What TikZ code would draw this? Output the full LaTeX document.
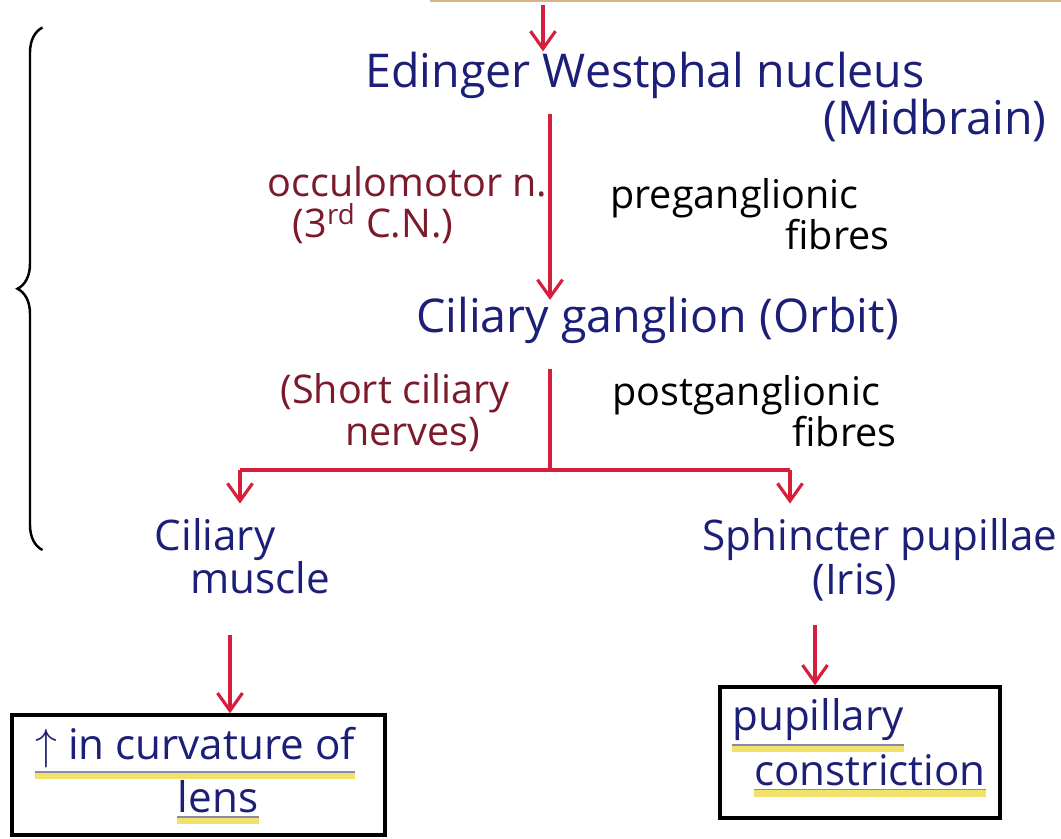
\documentclass[tikz,border=0pt]{standalone}
\usepackage{fontspec}
\setmainfont{Open Sans}
\usetikzlibrary{arrows.meta, decorations.pathreplacing, backgrounds}
\definecolor{inkblue}{HTML}{1C1F78}
\definecolor{inkred}{HTML}{7A1A2A}
\definecolor{arrowred}{HTML}{D61F3C}
\definecolor{marker}{HTML}{F0E26A}
\definecolor{markeredge}{HTML}{9088A8}
\definecolor{paper}{HTML}{D9B48A}

\begin{document}
\begin{tikzpicture}[
    organ/.style={text=inkblue, font=\fontsize{24}{28}\selectfont, inner sep=0pt},
    bigorgan/.style={organ, font=\fontsize{26.5}{30}\selectfont},
    nerve/.style={text=inkred, font=\fontsize{22.5}{23.5}\selectfont, inner sep=0pt, align=left, anchor=west},
    fibre/.style={text=black, font=\fontsize{22.5}{17}\selectfont, inner sep=0pt, align=left, anchor=west},
    result/.style={draw, line width=2pt, inner sep=0pt},
    arrow/.style={->, >={Straight Barb[length=3.5mm,width=5mm]}, line width=1.8pt, draw=arrowred},
    redline/.style={line width=1.8pt, draw=arrowred},
    marked/.style={line width=4pt, draw=marker}
]
\useasboundingbox (0,0) rectangle (21.22,-16.76);

% Paper edge
\draw[paper, line width=2pt] (8.6,0) -- (21.22,0);

% Nucleus
\node[bigorgan] (ew) at (12.9,-1.5) {Edinger Westphal nucleus};
\node[bigorgan] (mid) at (18.7,-2.4) {(Midbrain)};
\coordinate (topin) at (10.86,-0.1);
\coordinate (axis) at (11,0);
\draw[arrow] (topin) -- (topin |- ew.north);

% Preganglionic part
\node[nerve] (oc) at (5.35,-4.1) {occulomotor n.\\\hspace*{0.5cm}(3\textsuperscript{rd} C.N.)};
\node[fibre] (pre) at (12.2,-4.28) {preganglionic\\\hspace*{3.5cm}fibres};

% Ganglion
\node[bigorgan] (cg) at (13.15,-6.4) {Ciliary ganglion (Orbit)};
\draw[arrow] ([yshift=-0.3cm]axis |- ew.south) -- ([yshift=-2pt]axis |- cg.north);

% Postganglionic part
\node[nerve] (sc) at (5.6,-8.25) {(Short ciliary\\\hspace*{1.3cm}nerves)};
\node[fibre] (post) at (12.24,-8.22) {postganglionic\\\hspace*{3.6cm}fibres};
\coordinate (split) at (11,-9.4);
\draw[redline] ([yshift=-0.5cm]axis |- cg.south) -- (split);

% Targets
\node[organ] (cil) at (4.3,-10.8) {Ciliary};
\node[organ] (mus) at (5.2,-11.56) {muscle};
\node[organ] (sp) at (17.6,-10.8) {Sphincter pupillae};
\node[organ] (iris) at (17.1,-11.64) {(Iris)};
\coordinate (left) at (4.8,-9.4);
\coordinate (right) at (15.8,-9.4);
\draw[redline] (left) -- (right);
\draw[arrow] (left) -- ([yshift=0.3cm]left |- cil.north);
\draw[arrow] (right) -- ([yshift=0.3cm]right |- sp.north);

% Brace
\draw[decorate, decoration={brace, amplitude=0.5cm}, line width=1.4pt] (0.85,-11.0) -- (0.85,-0.55);

% Results
\node[result, minimum width=7.46cm, minimum height=2.4cm] (lensbox) at (3.97,-15.5) {};
\node[result, minimum width=5.6cm, minimum height=2.62cm] (pupilbox) at (17.2,-15.05) {};
\coordinate (lensin) at (4.6,-12.7);
\coordinate (pupin) at (16.3,-12.5);
\draw[arrow] (lensin) -- (lensin |- lensbox.north);
\draw[arrow] (pupin) -- (pupin |- pupilbox.north);

\node[organ] (curv) at (3.9,-14.96) {$\uparrow$ in curvature of};
\node[organ] (lens) at (4.36,-15.94) {lens};
\node[organ] (pup) at (16.36,-14.4) {pupillary};
\node[organ] (con) at (17.4,-15.4) {constriction};

% Highlights
\begin{scope}[on background layer]
\foreach \word in {curv, lens, pup, con} {
    \draw[marked] ([yshift=-4pt]\word.south west) -- ([yshift=-4pt]\word.south east);
    \draw[markeredge, line width=1pt] ([yshift=-2pt]\word.south west) -- ([yshift=-2pt]\word.south east);
}
\end{scope}

\end{tikzpicture}
\end{document}
